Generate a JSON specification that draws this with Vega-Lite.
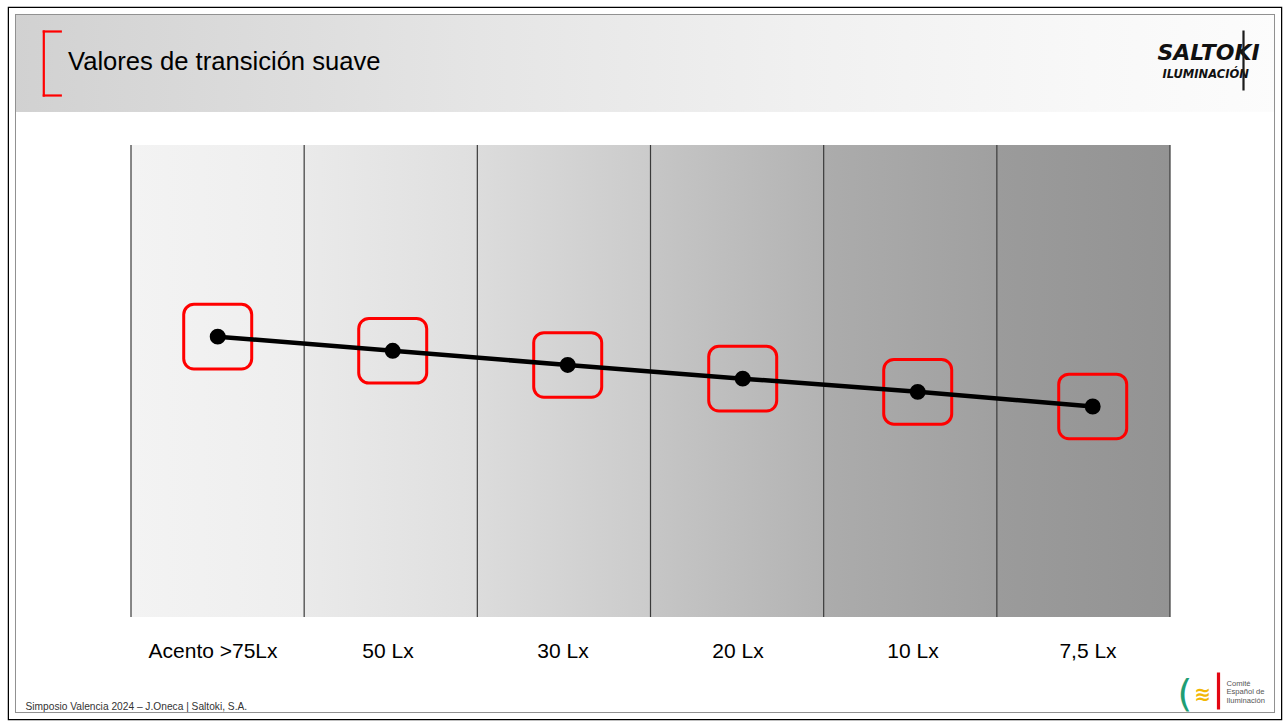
{
  "$schema": "https://vega.github.io/schema/vega-lite/v6.json",
  "width": 1272,
  "height": 711,
  "autosize": {"type": "none"},
  "padding": {"left": 9, "top": 8, "right": 4, "bottom": 2},
  "background": "white",
  "config": {"view": {"stroke": "#000000", "strokeWidth": 2.5, "fill": "white"}, "font": "Liberation Sans"},
  "title": {"text": "Valores de transición suave", "anchor": "start", "frame": "group", "dx": 59, "dy": 88, "offset": 0, "baseline": "alphabetic", "font": "Liberation Sans", "fontSize": 25.6, "fontWeight": "normal", "color": "#000000"},
  "data": {"values": [
    {"categoria": "Acento >75Lx", "nivel": 59.4},
    {"categoria": "50 Lx", "nivel": 56.4},
    {"categoria": "30 Lx", "nivel": 53.4},
    {"categoria": "20 Lx", "nivel": 50.5},
    {"categoria": "10 Lx", "nivel": 47.7},
    {"categoria": "7,5 Lx", "nivel": 44.6}
  ]},
  "resolve": {"scale": {"x": "independent", "y": "independent"}},
  "layer": [
    {
      "layer": [
        {
          "mark": {"type": "rect", "fill": {"gradient": "linear", "x1": 0, "y1": 0, "x2": 1, "y2": 0, "stops": [{"offset": 0, "color": "#d1d1d1"}, {"offset": 0.37, "color": "#e5e5e5"}, {"offset": 0.62, "color": "#f0f0f0"}, {"offset": 0.85, "color": "#f8f8f8"}, {"offset": 1, "color": "#fcfcfc"}]}, "stroke": null},
          "encoding": {
            "y": {"datum": 107.1, "type": "quantitative", "scale": {"domain": [-21.61, 129.03], "nice": false, "zero": false},
              "axis": {"orient": "left", "labels": false, "ticks": false, "domain": false, "grid": false, "zindex": 2,
                "title": "SALTOKI", "titleX": 1148, "titleY": 51, "titleAngle": 0, "titleAlign": "left", "titleBaseline": "alphabetic",
                "titleFont": "DejaVu Sans", "titleFontSize": 22, "titleFontWeight": "bold", "titleFontStyle": "italic", "titleColor": "#111111"}},
            "y2": {"datum": 129.03}
          }
        },
        {
          "mark": {"type": "rect", "filled": false, "fill": null, "stroke": "#909090", "strokeWidth": 13, "clip": true},
          "encoding": {"y": {"datum": -21.61, "type": "quantitative", "scale": {"domain": [-21.61, 129.03], "nice": false, "zero": false}}, "y2": {"datum": 129.03}}
        },
        {
          "mark": {"type": "rect", "filled": false, "fill": null, "stroke": "#ffffff", "strokeWidth": 11, "clip": true},
          "encoding": {"y": {"datum": -21.61, "type": "quantitative", "scale": {"domain": [-21.61, 129.03], "nice": false, "zero": false}}, "y2": {"datum": 129.03}}
        },
        {
          "encoding": {
            "x": {"field": "categoria", "type": "nominal",
              "scale": {"type": "band", "domain": ["Acento >75Lx", "50 Lx", "30 Lx", "20 Lx", "10 Lx", "7,5 Lx"], "paddingInner": 0, "paddingOuter": 0.67276, "align": 0.52361},
              "axis": {"orient": "top", "labels": false, "ticks": false, "domain": false, "grid": false, "zindex": 2,
                "title": "(", "titleX": 1168, "titleY": 697, "titleAlign": "left", "titleBaseline": "alphabetic",
                "titleFont": "DejaVu Sans", "titleFontSize": 38, "titleFontWeight": "normal", "titleColor": "#1f9e74"}}
          },
          "layer": [
            {"transform": [{"filter": {"field": "categoria", "equal": "Acento >75Lx"}}],
             "mark": {"type": "rect", "stroke": null, "fill": {"gradient": "linear", "x1": 0, "y1": 0, "x2": 1, "y2": 0, "stops": [{"offset": 0, "color": "#f3f3f3"}, {"offset": 1, "color": "#eeeeee"}]}},
             "encoding": {"y": {"datum": 0, "type": "quantitative", "scale": {"domain": [-21.61, 129.03], "nice": false, "zero": false}}, "y2": {"datum": 100}}},
            {"transform": [{"filter": {"field": "categoria", "equal": "50 Lx"}}],
             "mark": {"type": "rect", "stroke": null, "fill": {"gradient": "linear", "x1": 0, "y1": 0, "x2": 1, "y2": 0, "stops": [{"offset": 0, "color": "#eaeaea"}, {"offset": 1, "color": "#dfdfdf"}]}},
             "encoding": {"y": {"datum": 0, "type": "quantitative", "scale": {"domain": [-21.61, 129.03], "nice": false, "zero": false}}, "y2": {"datum": 100}}},
            {"transform": [{"filter": {"field": "categoria", "equal": "30 Lx"}}],
             "mark": {"type": "rect", "stroke": null, "fill": {"gradient": "linear", "x1": 0, "y1": 0, "x2": 1, "y2": 0, "stops": [{"offset": 0, "color": "#dcdcdc"}, {"offset": 1, "color": "#cbcbcb"}]}},
             "encoding": {"y": {"datum": 0, "type": "quantitative", "scale": {"domain": [-21.61, 129.03], "nice": false, "zero": false}}, "y2": {"datum": 100}}},
            {"transform": [{"filter": {"field": "categoria", "equal": "20 Lx"}}],
             "mark": {"type": "rect", "stroke": null, "fill": {"gradient": "linear", "x1": 0, "y1": 0, "x2": 1, "y2": 0, "stops": [{"offset": 0, "color": "#c6c6c6"}, {"offset": 1, "color": "#b3b3b3"}]}},
             "encoding": {"y": {"datum": 0, "type": "quantitative", "scale": {"domain": [-21.61, 129.03], "nice": false, "zero": false}}, "y2": {"datum": 100}}},
            {"transform": [{"filter": {"field": "categoria", "equal": "10 Lx"}}],
             "mark": {"type": "rect", "stroke": null, "fill": {"gradient": "linear", "x1": 0, "y1": 0, "x2": 1, "y2": 0, "stops": [{"offset": 0, "color": "#acacac"}, {"offset": 1, "color": "#a0a0a0"}]}},
             "encoding": {"y": {"datum": 0, "type": "quantitative", "scale": {"domain": [-21.61, 129.03], "nice": false, "zero": false}}, "y2": {"datum": 100}}},
            {"transform": [{"filter": {"field": "categoria", "equal": "7,5 Lx"}}],
             "mark": {"type": "rect", "stroke": null, "fill": {"gradient": "linear", "x1": 0, "y1": 0, "x2": 1, "y2": 0, "stops": [{"offset": 0, "color": "#9b9b9b"}, {"offset": 1, "color": "#939393"}]}},
             "encoding": {"y": {"datum": 0, "type": "quantitative", "scale": {"domain": [-21.61, 129.03], "nice": false, "zero": false}}, "y2": {"datum": 100}}},
            {"mark": {"type": "rule", "color": "#3a3a3a", "strokeWidth": 1.2},
             "encoding": {"x": {"field": "categoria", "type": "nominal", "bandPosition": 0}, "y": {"datum": 0, "type": "quantitative", "scale": {"domain": [-21.61, 129.03], "nice": false, "zero": false}}, "y2": {"datum": 100}}},
            {"transform": [{"filter": {"field": "categoria", "equal": "7,5 Lx"}}],
             "mark": {"type": "rule", "color": "#3a3a3a", "strokeWidth": 1.2},
             "encoding": {"x": {"field": "categoria", "type": "nominal", "bandPosition": 1}, "y": {"datum": 0, "type": "quantitative", "scale": {"domain": [-21.61, 129.03], "nice": false, "zero": false}}, "y2": {"datum": 100}}}
          ]
        }
      ]
    },
    {
      "encoding": {
        "x": {"field": "categoria", "type": "nominal",
          "scale": {"type": "band", "domain": ["Acento >75Lx", "50 Lx", "30 Lx", "20 Lx", "10 Lx", "7,5 Lx"], "paddingInner": 0, "paddingOuter": 0.6343, "align": 0.546},
          "axis": {"orient": "bottom", "offset": -102, "domain": false, "ticks": false, "tickSize": 0, "grid": false, "zindex": 2,
            "labelFont": "Liberation Sans", "labelFontSize": 21, "labelColor": "#000000", "labelPadding": 40, "labelBaseline": "alphabetic",
            "labelOffset": -4.7, "labelAngle": 0, "labelOverlap": false, "labelLimit": 0,
            "title": "Simposio Valencia 2024 – J.Oneca | Saltoki, S.A.", "titleX": 16, "titleY": 92, "titleAlign": "left", "titleBaseline": "alphabetic",
            "titleFont": "Liberation Sans", "titleFontSize": 10.2, "titleFontWeight": "normal", "titleColor": "#333333"}},
        "y": {"field": "nivel", "type": "quantitative", "scale": {"domain": [-21.61, 129.03], "nice": false, "zero": false},
          "axis": {"orient": "right", "labels": false, "ticks": false, "domain": false, "grid": false, "zindex": 2,
            "title": ["Comité", "Español de", "Iluminación"], "titleX": -55, "titleY": 677, "titleAngle": 0, "titleAlign": "left", "titleBaseline": "alphabetic",
            "titleFont": "Liberation Sans", "titleFontSize": 7.6, "titleLineHeight": 8.6, "titleFontWeight": "normal", "titleColor": "#555555"}}
      },
      "layer": [
        {"mark": {"type": "point", "shape": "M-0.7,-0.95L0.7,-0.95A0.3,0.3,0,0,1,1,-0.65L1,0.65A0.3,0.3,0,0,1,0.7,0.95L-0.7,0.95A0.3,0.3,0,0,1,-1,0.65L-1,-0.65A0.3,0.3,0,0,1,-0.7,-0.95Z", "size": 4624, "filled": false, "stroke": "#ff0000", "strokeWidth": 3, "opacity": 1}},
        {"mark": {"type": "line", "color": "#000000", "strokeWidth": 4.5}, "encoding": {"order": {"value": null}}},
        {"mark": {"type": "point", "shape": "circle", "filled": true, "size": 254, "color": "#000000", "opacity": 1}}
      ]
    },
    {
      "mark": {"type": "rule", "opacity": 0, "strokeWidth": 0},
      "encoding": {
        "y": {"datum": 0, "type": "quantitative", "scale": {"domain": [0, 1], "range": [87, 23], "nice": false, "zero": false},
          "axis": {"orient": "left", "offset": -34.3, "labels": false, "grid": false, "zindex": 2, "values": [0, 1],
            "domain": true, "domainColor": "#ff0000", "domainWidth": 2.2, "domainCap": "square",
            "ticks": true, "tickColor": "#ff0000", "tickWidth": 2.2, "tickSize": -17, "tickCap": "square",
            "title": "ILUMINACIÓN", "titleX": 1118.7, "titleY": 69, "titleAngle": 0, "titleAlign": "left", "titleBaseline": "alphabetic",
            "titleFont": "DejaVu Sans", "titleFontSize": 11.5, "titleFontWeight": "bold", "titleFontStyle": "italic", "titleColor": "#111111"}},
        "y2": {"datum": 1}
      }
    },
    {
      "mark": {"type": "rule", "opacity": 0, "strokeWidth": 0},
      "encoding": {
        "y": {"datum": 0, "type": "quantitative", "scale": {"domain": [0, 1], "range": [701, 664], "nice": false, "zero": false},
          "axis": {"orient": "left", "offset": -1209, "labels": false, "grid": false, "ticks": false, "zindex": 2,
            "domain": true, "domainColor": "#e30613", "domainWidth": 3.2,
            "title": "≋", "titleX": -16, "titleY": 686, "titleAngle": 0, "titleAlign": "center", "titleBaseline": "middle",
            "titleFont": "DejaVu Sans", "titleFontSize": 20, "titleFontWeight": "bold", "titleColor": "#f2b705"}},
        "y2": {"datum": 1}
      }
    },
    {
      "mark": {"type": "rule", "opacity": 0, "strokeWidth": 0},
      "encoding": {
        "y": {"datum": 0, "type": "quantitative", "scale": {"domain": [0, 1], "range": [82, 22], "nice": false, "zero": false},
          "axis": {"orient": "left", "offset": -1234, "labels": false, "grid": false, "ticks": false, "zindex": 2,
            "domain": true, "domainColor": "#1c1c1c", "domainWidth": 2.2, "title": null}},
        "y2": {"datum": 1}
      }
    }
  ]
}
